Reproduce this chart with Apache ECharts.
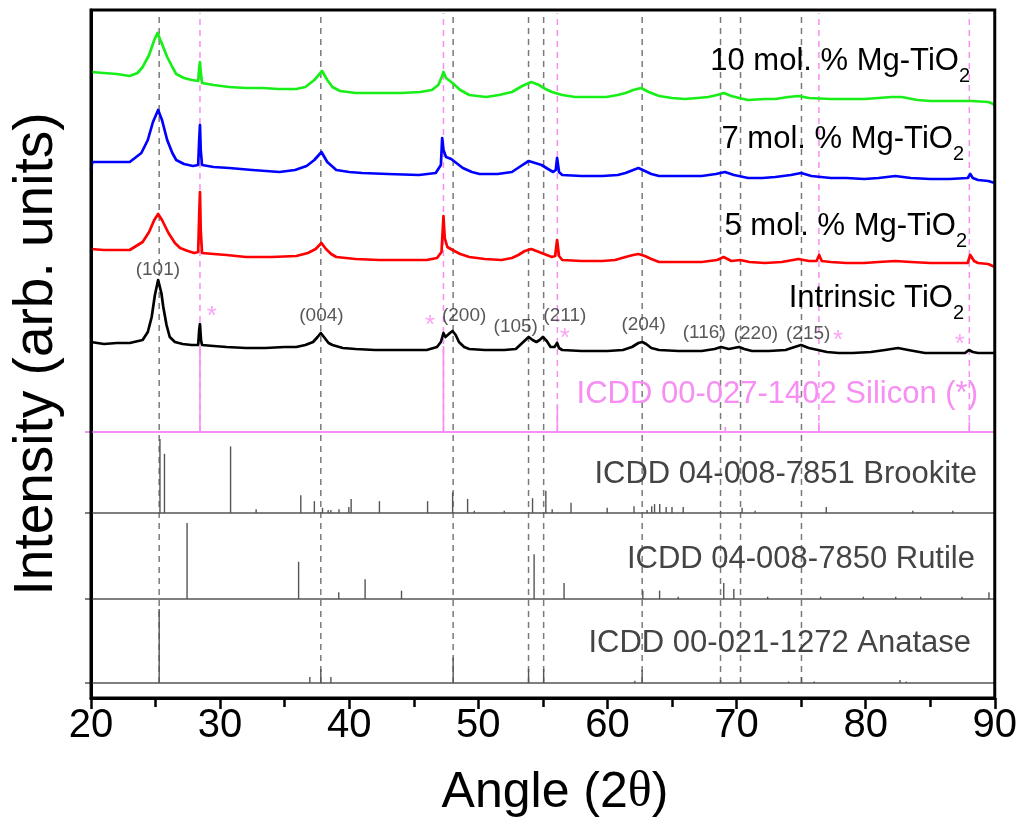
<!DOCTYPE html>
<html>
<head>
<meta charset="utf-8">
<script src="https://cdn.jsdelivr.net/npm/echarts@6/dist/echarts.min.js"></script>
<style>
  html, body { margin: 0; padding: 0; background: #fff; }
  #chart { width: 1020px; height: 819px; }
</style>
</head>
<body>
<div id="chart"></div>
<script>
// ---- measured patterns: [2θ, intensity above each trace's own baseline] ----
const intrinsicTiO2 = [
  [20.0,16],[21.0,14],[22.0,15],[23.0,15],[24.0,18],[24.4,26],[24.7,41],[24.95,63],[25.2,78],[25.45,65],
  [25.6,51],[25.85,33],[26.1,21],[26.5,16],[27.1,14],[27.8,13],[28.3,13],[28.38,28],[28.44,34],[28.52,18],
  [28.6,13],[29.5,12],[30.5,11],[32.0,10],[33.5,10],[35.0,11],[35.9,11],[36.6,13],[37.2,16],[37.55,21],
  [37.8,25],[38.1,20],[38.4,15],[38.7,13],[39.5,10],[40.5,9],[42.0,8],[44.0,8],[46.0,8],[46.8,11],
  [47.1,16],[47.3,25],[47.45,21],[47.6,21],[47.8,25],[48.0,27],[48.25,23],[48.5,16],[48.9,11],[49.3,9],
  [50.5,8],[52.0,8],[52.9,9],[53.4,15],[53.9,21],[54.2,18],[54.5,16],[54.75,18],[55.0,21],[55.3,17],
  [55.6,11],[55.9,11],[56.1,15],[56.25,10],[56.5,8],[58.0,7],[60.0,7],[61.2,8],[61.9,11],[62.4,15],
  [62.7,16],[63.0,14],[63.4,10],[64.0,8],[65.5,7],[67.3,7],[68.3,9],[68.8,11],[69.4,9],[69.8,10],
  [70.2,11],[70.6,9],[71.2,7],[72.5,7],[73.8,8],[74.5,11],[75.0,13],[75.6,10],[76.3,8],[77.0,6],
  [77.9,5],[79.0,5],[80.4,6],[81.5,8],[82.5,10],[83.3,8],[84.6,5],[86.0,5],[87.7,5],[88.0,8],
  [88.1,10],[88.3,6],[88.7,5],[90.0,5]
];
const mg5TiO2 = [
  [20.0,19],[21.0,18],[22.0,18],[23.0,18],[24.0,26],[24.5,36],[24.9,48],[25.2,54],[25.5,48],[26.0,35],
  [26.5,25],[26.9,20],[27.5,17],[28.0,15],[28.3,16],[28.38,53],[28.44,76],[28.5,38],[28.6,15],[29.5,14],
  [30.5,13],[32.0,11],[34.0,11],[35.9,12],[36.8,15],[37.4,19],[37.85,25],[38.2,19],[38.6,14],[39.0,11],
  [40.5,9],[42.3,8],[44.0,8],[46.0,8],[46.8,10],[47.15,16],[47.3,52],[47.4,30],[47.6,21],[48.0,18],
  [48.6,14],[49.3,11],[50.5,9],[51.8,8],[52.6,10],[53.1,13],[53.6,17],[54.1,19],[54.5,17],[54.9,15],
  [55.3,13],[55.7,11],[55.95,12],[56.1,28],[56.25,12],[56.5,8],[58.0,7],[59.6,7],[60.6,8],[61.4,11],
  [62.0,13],[62.4,14],[62.9,12],[63.4,9],[64.0,6],[65.5,6],[67.3,6],[68.5,8],[69.0,11],[69.1,13],
  [69.3,9],[69.6,7],[70.3,8],[71.0,6],[72.2,5],[73.5,6],[74.8,9],[75.6,7],[76.2,7],[76.4,13],
  [76.6,7],[77.3,6],[78.5,5],[79.9,5],[81.0,6],[82.3,7],[83.5,6],[85.0,5],[86.5,5],[87.9,5],
  [88.1,13],[88.4,7],[88.7,5],[89.5,4],[90.0,1]
];
const mg7TiO2 = [
  [20.0,13],[20.1,21],[21.0,21],[22.0,21],[23.0,21],[23.9,30],[24.4,43],[24.8,61],[25.2,73],[25.5,63],
  [25.9,43],[26.3,30],[26.6,23],[27.2,19],[27.9,17],[28.3,18],[28.38,43],[28.44,58],[28.5,33],[28.6,18],
  [29.5,16],[30.7,15],[32.5,13],[34.6,11],[35.8,13],[36.7,17],[37.3,23],[37.85,31],[38.3,21],[39.0,13],
  [40.0,11],[41.0,10],[43.0,9],[45.4,8],[46.7,10],[47.1,18],[47.2,45],[47.3,33],[47.5,26],[47.9,24],
  [48.3,20],[48.8,15],[49.5,11],[50.1,9],[51.5,9],[52.6,11],[53.3,17],[53.9,22],[54.4,20],[54.9,18],
  [55.4,14],[55.8,11],[56.0,13],[56.1,25],[56.25,11],[56.5,8],[58.0,7],[59.6,7],[60.8,8],[61.4,10],
  [62.0,13],[62.4,15],[62.9,12],[63.4,9],[64.0,7],[65.5,7],[67.3,7],[68.4,9],[69.1,11],[69.8,8],
  [70.9,5],[72.0,5],[73.0,6],[74.2,8],[75.0,10],[75.8,7],[77.3,5],[78.5,5],[79.9,4],[81.0,5],
  [82.3,7],[83.5,5],[85.0,4],[86.5,4],[87.9,5],[88.1,9],[88.3,5],[88.7,3],[89.5,2],[90.0,0]
];
const mg10TiO2 = [
  [20.0,31],[21.0,30],[22.0,29],[23.0,27],[23.6,30],[24.0,36],[24.5,48],[24.9,63],[25.15,70],[25.5,59],
  [25.9,46],[26.3,36],[26.6,29],[27.2,25],[27.8,23],[28.3,22],[28.38,35],[28.44,41],[28.5,31],[28.6,20],
  [29.5,18],[30.7,16],[32.0,15],[33.3,15],[34.5,14],[35.9,14],[36.6,16],[37.3,23],[37.9,32],[38.3,23],
  [38.7,16],[39.3,12],[40.5,10],[42.3,10],[44.0,10],[45.5,11],[46.4,13],[46.9,18],[47.2,27],[47.3,31],
  [47.5,25],[48.0,20],[48.6,13],[49.3,8],[50.6,6],[51.6,8],[52.6,11],[53.4,17],[54.1,21],[54.7,18],
  [55.2,14],[55.7,11],[56.5,8],[57.5,6],[58.3,6],[59.9,6],[60.8,8],[61.4,10],[62.0,13],[62.6,15],
  [63.2,11],[64.0,7],[65.0,5],[66.0,4],[67.0,5],[67.8,6],[68.5,8],[69.0,10],[69.6,7],[70.2,5],
  [70.9,3],[72.2,4],[73.0,4],[74.0,6],[74.8,7],[75.6,5],[77.3,4],[78.6,4],[79.9,4],[81.0,5],
  [82.0,6],[82.8,6],[84.0,3],[85.0,2],[86.5,2],[88.2,2],[89.5,1],[89.9,-1],[90.0,-3]
];

// ---- reference cards: line positions (2θ) and relative intensities (%) ----
const siliconAngles  = [28.44, 47.30, 56.12, 69.13, 76.38, 88.03];
const siliconRel     = [100, 100, 30, 6, 11, 12];
const brookiteAngles = [25.34, 25.69, 30.81, 32.79, 36.25, 37.30, 37.93, 38.37, 38.58, 39.21, 39.97, 40.15,
                        42.34, 46.07, 48.01, 49.17, 49.69, 52.01, 54.20, 55.23, 55.72, 57.18, 59.98, 62.06,
                        63.07, 63.43, 63.65, 64.05, 64.55, 65.00, 65.87, 68.76, 70.43, 71.44, 76.95, 83.65, 86.75];
const brookiteRel    = [100, 80, 90, 5, 24, 16, 7, 4, 4, 5, 8, 19,
                        16, 16, 28, 19, 3, 3, 20, 30, 5, 14, 7, 9,
                        4, 9, 12, 12, 8, 8, 8, 3, 7, 3, 8, 3, 3];
const rutileAngles   = [27.44, 36.08, 39.19, 41.23, 44.05, 54.32, 56.64, 62.74, 64.04, 65.48, 69.01, 69.79,
                        72.41, 76.51, 79.82, 82.33, 84.26, 87.46, 89.55];
const rutileRel      = [100, 49, 9, 26, 11, 59, 21, 11, 11, 3, 21, 13, 3, 3, 3, 3, 3, 3, 9];
const anataseAngles  = [25.28, 36.95, 37.80, 38.58, 48.05, 53.89, 55.06, 62.12, 62.69, 68.76, 70.31,
                        74.03, 75.03, 76.02, 82.66, 83.15];
const anataseRel     = [100, 8, 19, 8, 34, 19, 19, 3, 18, 4, 4, 2, 8, 2, 4, 2];

// guide lines through the anatase reflections and the silicon standard lines
const anataseGuides  = [25.28, 37.80, 48.05, 53.89, 55.06, 62.69, 68.76, 70.31, 75.03];
const siliconGuides  = [28.44, 47.30, 56.12, 76.38, 88.03];

// Miller indices of the labelled anatase reflections
const hklLabels = ['(101)', '(004)', '(200)', '(105)', '(211)', '(204)', '(116)', '(220)', '(215)'];

const xTickValues = [20, 30, 40, 50, 60, 70, 80, 90];

// ---- layout of the stacked plot (arbitrary intensity units) ----
const Y_MAX = 688;
const traceOffsets = { intrinsic: 340, mg5: 430, mg7: 515, mg10: 595 };
const panels = {
  silicon:  { base: 266, full: 86, color: '#f78ef3', width: 1.6 },
  brookite: { base: 185, full: 74, color: '#555555', width: 1.4 },
  rutile:   { base: 99,  full: 76, color: '#555555', width: 1.4 },
  anatase:  { base: 15,  full: 74, color: '#555555', width: 1.4 }
};
const PINK = '#f78ef3';
const FONT = '"Liberation Sans", Arial, sans-serif';

function shifted(points, offset) {
  return points.map(p => [p[0], p[1] + offset]);
}

function traceSeries(name, points, offset, color) {
  return {
    name, type: 'line', data: shifted(points, offset),
    showSymbol: false, symbol: 'none', z: 4, silent: true,
    lineStyle: { color, width: 2.7, join: 'round' }
  };
}

function stickSeries(angles, rel, panel) {
  return {
    type: 'custom', coordinateSystem: 'cartesian2d', silent: true, z: 3,
    encode: { x: 0, y: 1 },
    data: angles.map((a, i) => [a, rel[i]]),
    renderItem(params, api) {
      const a = api.value(0), r = api.value(1);
      const p0 = api.coord([a, panel.base]);
      const p1 = api.coord([a, panel.base + r * panel.full / 100]);
      return { type: 'line', shape: { x1: p0[0], y1: p0[1], x2: p1[0], y2: p1[1] },
               style: { stroke: panel.color, lineWidth: panel.width } };
    }
  };
}

function guideSeries(angles, yLow, color) {
  return {
    type: 'custom', coordinateSystem: 'cartesian2d', silent: true, z: 2,
    encode: { x: 0 },
    data: angles.map(a => [a]),
    renderItem(params, api) {
      const a = api.value(0);
      const p0 = api.coord([a, yLow]);
      const p1 = api.coord([a, Y_MAX - 3]);
      return { type: 'line', shape: { x1: p0[0], y1: p0[1], x2: p1[0], y2: p1[1] },
               style: { stroke: color, lineWidth: 1.5, lineDash: [6, 5] } };
    }
  };
}

const panelList = [panels.silicon, panels.brookite, panels.rutile, panels.anatase];
const baselineSeries = {
  type: 'custom', coordinateSystem: 'cartesian2d', silent: true, z: 3,
  encode: { y: 1 },
  data: panelList.map((p, i) => [20, p.base, i]),
  renderItem(params, api) {
    const p = panelList[api.value(2)];
    const a = api.coord([20, p.base]);
    const b = api.coord([90, p.base]);
    return { type: 'line', shape: { x1: a[0] - 6, y1: a[1], x2: b[0], y2: b[1] },
             style: { stroke: p.color, lineWidth: p === panels.silicon ? 2 : 1.6 } };
  }
};

// hkl annotation anchors [2θ, height]
const hklAnchors = [[25.18,428],[37.85,382],[48.9,382],[52.9,371],[56.7,382],[62.8,373],[67.5,365],[71.5,364],[75.55,364]];
const starAnchors = [[29.35,381],[46.27,372],[56.7,359],[77.87,357],[87.3,353]];

const hklSeries = {
  type: 'scatter', silent: true, z: 6, symbolSize: 1,
  itemStyle: { color: 'rgba(0,0,0,0)' },
  data: hklAnchors.map((p, i) => ({ value: p, name: hklLabels[i] })),
  label: { show: true, position: 'inside', formatter: p => p.name,
           fontFamily: FONT, fontSize: 19, color: '#2e2e2e' }
};
const starSeries = {
  type: 'scatter', silent: true, z: 6, symbolSize: 1,
  itemStyle: { color: 'rgba(0,0,0,0)' },
  data: starAnchors,
  label: { show: true, position: 'inside', formatter: '*',
           fontFamily: FONT, fontSize: 26, color: PINK }
};

function panelText(text, x, y, color, rich) {
  return {
    type: 'text', x, y, z: 10, silent: true,
    style: { text, fill: color, font: '31px ' + FONT, align: 'right', verticalAlign: 'middle',
             textAlign: 'right', textVerticalAlign: 'middle', rich }
  };
}
const subRich = { s: { fontSize: 20, fontFamily: FONT, fill: '#000', padding: [30, 0, 0, 0] } };

const chart = echarts.init(document.getElementById('chart'), null, { renderer: 'canvas' });
chart.setOption({
  animation: false,
  backgroundColor: '#fff',
  textStyle: { fontFamily: FONT },
  grid: { left: 91, right: 23, top: 10, bottom: 121, show: true, borderColor: '#000', borderWidth: 3, z: 8 },
  xAxis: {
    type: 'value', min: 20, max: 90, interval: 10,
    axisLine: { show: true, lineStyle: { color: '#000', width: 3 } },
    axisTick: { show: true, inside: false, length: 11, lineStyle: { color: '#000', width: 2.5 } },
    minorTick: { show: true, splitNumber: 2, length: 9, lineStyle: { color: '#000', width: 2.5 } },
    axisLabel: { fontSize: 40, color: '#000', fontFamily: FONT, margin: 8,
                 formatter: v => xTickValues.includes(v) ? String(v) : '' },
    splitLine: { show: false }
  },
  yAxis: {
    type: 'value', min: 0, max: Y_MAX,
    axisLine: { show: true, lineStyle: { color: '#000', width: 3 } },
    axisTick: { show: false }, axisLabel: { show: false }, splitLine: { show: false }
  },
  graphic: [
    { type: 'text', x: 37, y: 354, rotation: Math.PI / 2, silent: true,
      style: { text: 'Intensity (arb. units)', fill: '#000', font: '55px ' + FONT,
               align: 'center', verticalAlign: 'middle', textAlign: 'center', textVerticalAlign: 'middle' } },
    { type: 'text', x: 555, y: 793, silent: true,
      style: { text: 'Angle (2{t|θ})', fill: '#000', font: '50px ' + FONT,
               align: 'center', verticalAlign: 'middle', textAlign: 'center', textVerticalAlign: 'middle',
               rich: { t: { fontSize: 50, fontFamily: '"Liberation Serif", serif', fill: '#000' } } } },
    panelText('10 mol. % Mg-TiO{s|2}', 970, 61, '#000', subRich),
    panelText('7 mol. % Mg-TiO{s|2}', 964, 139, '#000', subRich),
    panelText('5 mol. % Mg-TiO{s|2}', 967, 226, '#000', subRich),
    panelText('Intrinsic TiO{s|2}', 964, 298, '#000', subRich),
    panelText('ICDD 00-027-1402 Silicon (*)', 978, 394, PINK),
    panelText('ICDD 04-008-7851 Brookite', 977, 474, '#444'),
    panelText('ICDD 04-008-7850 Rutile', 975, 559, '#444'),
    panelText('ICDD 00-021-1272 Anatase', 971, 643, '#444')
  ],
  series: [
    guideSeries(anataseGuides, panels.anatase.base, '#7a7a7a'),
    guideSeries(siliconGuides, panels.silicon.base, PINK),
    baselineSeries,
    stickSeries(siliconAngles, siliconRel, panels.silicon),
    stickSeries(brookiteAngles, brookiteRel, panels.brookite),
    stickSeries(rutileAngles, rutileRel, panels.rutile),
    stickSeries(anataseAngles, anataseRel, panels.anatase),
    traceSeries('Intrinsic TiO2', intrinsicTiO2, traceOffsets.intrinsic, '#000000'),
    traceSeries('5 mol. % Mg-TiO2', mg5TiO2, traceOffsets.mg5, '#ff0000'),
    traceSeries('7 mol. % Mg-TiO2', mg7TiO2, traceOffsets.mg7, '#0000ff'),
    traceSeries('10 mol. % Mg-TiO2', mg10TiO2, traceOffsets.mg10, '#18ee18'),
    hklSeries,
    starSeries
  ]
});
</script>
</body>
</html>
